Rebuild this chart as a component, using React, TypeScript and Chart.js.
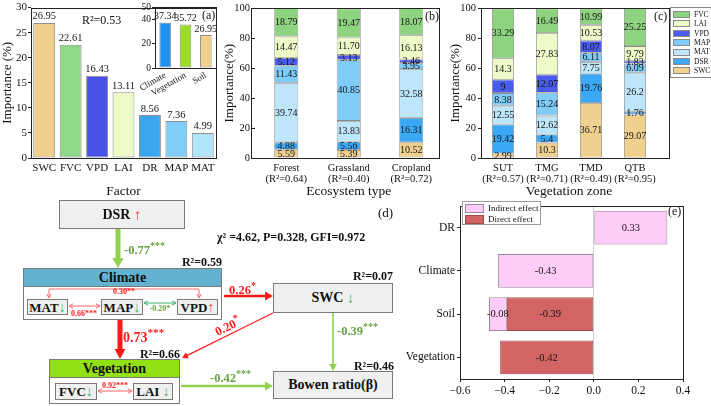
import React, { useEffect, useRef } from 'react';
import { Chart, registerables } from 'chart.js';
Chart.register(...registerables);

const SERIF = '"Liberation Serif", "Times New Roman", serif';
Chart.defaults.font.family = SERIF;
Chart.defaults.color = '#111';

// ---------- Panel (a) ----------
const factorLabels = ['SWC', 'FVC', 'VPD', 'LAI', 'DR', 'MAP', 'MAT'];
const factorImportance = [26.95, 22.61, 16.43, 13.11, 8.56, 7.36, 4.99];
const factorColors = ['#F0D08C', '#8CD987', '#4852E6', '#EEFAC8', '#3AA6F0', '#80CDF8', '#B0E4FA'];
const groupLabels = ['Climate', 'Vegetation', 'Soil'];
const groupImportance = [37.34, 35.72, 26.95];
const groupColors = ['#1E90F0', '#9ADC28', '#F0D08C'];
const aTicks = [0, 5, 10, 15, 20, 25, 30];

// ---------- Panel (b) / (c) ----------
const driverNames = ['SWC', 'DSR', 'MAT', 'MAP', 'VPD', 'LAI', 'FVC'];
const driverColors = ['#F0D08E', '#3AA8F5', '#BEE6FA', '#7FCCF8', '#4A5CF0', '#EEFAC8', '#8ED480'];

const ecoLabels = [['Forest', '(R²=0.64)'], ['Grassland', '(R²=0.40)'], ['Cropland', '(R²=0.72)']];
const ecoSWC = [5.59, 5.39, 10.52];
const ecoDSR = [4.88, 5.56, 16.31];
const ecoMAT = [39.74, 13.83, 32.58];
const ecoMAP = [11.43, 40.85, 3.95];
const ecoVPD = [5.12, 3.13, 2.46];
const ecoLAI = [14.47, 11.70, 16.13];
const ecoFVC = [18.79, 19.47, 18.07];

const zoneLabels = [['SUT', '(R²=0.57)'], ['TMG', '(R²=0.71)'], ['TMD', '(R²=0.49)'], ['QTB', '(R²=0.95)']];
const zoneSWC = [2.99, 10.3, 36.71, 29.07];
const zoneDSR = [19.42, 5.4, 19.76, 1.76];
const zoneMAT = [12.55, 12.62, 7.75, 26.2];
const zoneMAP = [8.38, 15.24, 6.11, 6.09];
const zoneVPD = [9, 12.07, 8.07, 1.83];
const zoneLAI = [14.3, 27.83, 10.53, 9.79];
const zoneFVC = [33.29, 16.49, 10.99, 25.25];

// ---------- Panel (e) ----------
const effectLabels = ['DR', 'Climate', 'Soil', 'Vegetation'];
const indirectEffect = [0.33, -0.43, -0.08, null];
const directEffect = [null, null, -0.39, -0.42];

const valueLabels = {
  id: 'valueLabels',
  afterDatasetsDraw(chart: any, _args: any, opts: any) {
    if (!opts || !opts.mode) return;
    const ctx = chart.ctx;
    ctx.save();
    ctx.font = `${opts.size}px ${SERIF}`;
    ctx.fillStyle = '#151515';
    ctx.textAlign = 'center';
    chart.data.datasets.forEach((ds: any, di: number) => {
      const meta = chart.getDatasetMeta(di);
      meta.data.forEach((el: any, i: number) => {
        const v = ds.data[i];
        if (v == null || v === 0) return;
        const txt = opts.decimals >= 0 ? v.toFixed(opts.decimals) : String(v);
        if (opts.mode === 'top') {
          ctx.textBaseline = 'bottom';
          ctx.fillText(txt, el.x, el.y - 1);
        } else {
          const p = el.getCenterPoint();
          ctx.textBaseline = 'middle';
          ctx.fillText(txt, p.x, p.y + 0.5);
        }
      });
    });
    ctx.restore();
  },
};

const framePlugin = {
  id: 'frame',
  afterDraw(chart: any, _args: any, opts: any) {
    const { left, right, top, bottom } = chart.chartArea;
    const ctx = chart.ctx;
    const l = Math.round(left - (opts.exL || 0)) + 0.5;
    const r = Math.round(right + (opts.exR || 0)) + 0.5;
    const t = Math.round(top) + 0.5;
    const b = Math.round(bottom) + 0.5;
    ctx.save();
    ctx.strokeStyle = '#222';
    ctx.lineWidth = 1;
    ctx.strokeRect(l, t, r - l, b - t);
    ctx.restore();
  },
};

const base = () => ({
  responsive: false,
  animation: false,
  events: [],
});

function configA() {
  return {
    type: 'bar',
    data: {
      labels: factorLabels,
      datasets: [{
        data: factorImportance,
        backgroundColor: factorColors,
        borderColor: '#8e8e8e',
        borderWidth: 1,
        borderSkipped: false,
        barPercentage: 0.83,
        categoryPercentage: 1,
      }],
    },
    options: {
      ...base(),
      layout: { padding: { top: 7, right: 14, left: 0, bottom: 0 } },
      plugins: { legend: { display: false }, tooltip: { enabled: false }, valueLabels: { mode: 'top', decimals: 2, size: 10.5 } },
      scales: {
        x: {
          grid: { display: false, drawTicks: false },
          border: { display: false },
          ticks: { font: { size: 11 }, padding: 4, maxRotation: 0, autoSkip: false },
          title: { display: true, text: 'Factor', font: { size: 13.5 }, padding: 0 },
          afterFit(s: any) { s.height = 42; },
        },
        y: {
          min: 0, max: 30,
          afterBuildTicks(s: any) { s.ticks = aTicks.map((v) => ({ value: v })); },
          ticks: { font: { size: 11 }, padding: 1 },
          grid: { drawOnChartArea: false, tickLength: 3, color: '#222' },
          border: { display: false },
          title: { display: true, text: 'Importance (%)', font: { size: 13 }, padding: 0 },
          afterFit(s: any) { s.width = 31; },
        },
      },
    },
    plugins: [valueLabels, framePlugin],
  };
}

function configInset() {
  return {
    type: 'bar',
    data: {
      labels: groupLabels,
      datasets: [{
        data: groupImportance,
        backgroundColor: groupColors,
        borderColor: '#8e8e8e',
        borderWidth: 1,
        borderSkipped: false,
        barPercentage: 0.57,
        categoryPercentage: 1,
      }],
    },
    options: {
      ...base(),
      layout: { padding: { top: 7, right: 7, left: 0, bottom: 0 } },
      plugins: { legend: { display: false }, tooltip: { enabled: false }, valueLabels: { mode: 'top', decimals: 2, size: 10 } },
      scales: {
        x: {
          grid: { display: false, drawTicks: false },
          border: { display: false },
          ticks: { font: { size: 9 }, padding: 2, minRotation: 30, maxRotation: 30, autoSkip: false },
          afterFit(s: any) { s.height = 32; },
        },
        y: {
          min: 0, max: 50,
          ticks: { stepSize: 20, font: { size: 9.5 }, padding: 1 },
          grid: { drawOnChartArea: false, tickLength: 3, color: '#222' },
          border: { display: false },
          afterFit(s: any) { s.width = 27; },
        },
      },
    },
    plugins: [valueLabels, framePlugin],
  };
}

function stackDatasets(series: number[][], width: number) {
  return series.map((d, i) => ({
    label: driverNames[i],
    data: d,
    backgroundColor: driverColors[i],
    borderColor: '#8a8a8a',
    borderWidth: 0.8,
    borderSkipped: false,
    barPercentage: width,
    categoryPercentage: 1,
  }));
}

function stackConfig(labels: any, series: number[][], width: number, padRight: number, exL: number, exR: number, title: string, decimals: number) {
  return {
    type: 'bar',
    data: { labels, datasets: stackDatasets(series, width) },
    options: {
      ...base(),
      layout: { padding: { top: 7, right: padRight, left: 0, bottom: 0 } },
      plugins: { legend: { display: false }, tooltip: { enabled: false }, valueLabels: { mode: 'center', decimals, size: 10 }, frame: { exL, exR } },
      scales: {
        x: {
          stacked: true,
          grid: { display: false, drawTicks: false },
          border: { display: false },
          ticks: { font: { size: 10.5, lineHeight: 1.1 }, padding: 4, maxRotation: 0, autoSkip: false },
          title: { display: true, text: title, font: { size: 13.5 }, padding: 0 },
          afterFit(s: any) { s.height = 42; },
        },
        y: {
          stacked: true,
          min: 0, max: 100,
          ticks: { stepSize: 20, font: { size: 10.5 }, padding: 2 },
          grid: { drawOnChartArea: false, tickLength: 3, color: '#222' },
          border: { display: false },
          title: { display: true, text: 'Importance(%)', font: { size: 13 }, padding: 0 },
          afterFit(s: any) { s.width = 33; },
        },
      },
    },
    plugins: [valueLabels, framePlugin],
  };
}

function configB() {
  return stackConfig(ecoLabels, [ecoSWC, ecoDSR, ecoMAT, ecoMAP, ecoVPD, ecoLAI, ecoFVC], 0.384, 17.5, 4, -3.5, 'Ecosystem type', 2);
}
function configC() {
  return stackConfig(zoneLabels, [zoneSWC, zoneDSR, zoneMAT, zoneMAP, zoneVPD, zoneLAI, zoneFVC], 0.5, 54, 0, 12, 'Vegetation zone', -1);
}

function configE() {
  return {
    type: 'bar',
    data: {
      labels: effectLabels,
      datasets: [
        { label: 'Direct effect', data: directEffect, backgroundColor: '#D36464', borderColor: '#A24848', borderWidth: 1, borderSkipped: false, barPercentage: 0.78, categoryPercentage: 1 },
        { label: 'Indirect effect', data: indirectEffect, backgroundColor: '#FFCCF8', borderColor: '#9C86A4', borderWidth: 1, borderSkipped: false, barPercentage: 0.78, categoryPercentage: 1 },
      ],
    },
    options: {
      ...base(),
      indexAxis: 'y',
      layout: { padding: { top: 2, right: 28, left: 0, bottom: 0 } },
      plugins: { legend: { display: false }, tooltip: { enabled: false }, valueLabels: { mode: 'center', decimals: 2, size: 10.5 } },
      scales: {
        x: {
          stacked: true,
          min: -0.6, max: 0.4,
          ticks: {
            stepSize: 0.2, font: { size: 11.5 }, padding: 2,
            callback: (v: number) => { const n = Math.abs(v) < 1e-9 ? 0 : v; return n < 0 ? '\u2212' + Math.abs(n).toFixed(1) : n.toFixed(1); },
          },
          grid: {
            color: (c: any) => (c.tick && Math.abs(c.tick.value) < 1e-9 ? '#cfcfcf' : 'rgba(0,0,0,0)'),
            tickColor: '#222', tickLength: 3,
          },
          border: { display: false },
          afterFit(s: any) { s.height = 27; },
        },
        y: {
          stacked: true,
          ticks: { font: { size: 11.5 }, padding: 2 },
          grid: { drawOnChartArea: false, offset: false, tickLength: 3, color: '#222' },
          border: { display: false },
          afterFit(s: any) { s.width = 64; },
        },
      },
    },
    plugins: [valueLabels, framePlugin],
  };
}

function ChartCanvas({ left, top, width, height, make }: any) {
  const ref = useRef<HTMLCanvasElement>(null);
  useEffect(() => {
    const chart = new Chart(ref.current as HTMLCanvasElement, make() as any);
    return () => chart.destroy();
  }, []);
  return <canvas ref={ref} width={width} height={height} style={{ position: 'absolute', left, top, width, height }} />;
}

function T({ x, y, s = 12, c = '#111', b = true, a = 'left', rot = 0, children }: any) {
  const style: any = {
    position: 'absolute', top: y - s * 0.6, fontSize: s, lineHeight: `${s * 1.2}px`, color: c,
    fontWeight: b ? 'bold' : 'normal', fontFamily: SERIF, whiteSpace: 'nowrap',
  };
  if (rot) {
    style.left = x; style.top = y; style.transform = `translate(-50%,-50%) rotate(${rot}deg)`;
  } else if (a === 'left') style.left = x;
  else if (a === 'right') style.right = 711 - x;
  else { style.left = x; style.transform = 'translateX(-50%)'; }
  return <div style={style}>{children}</div>;
}

const Sup = ({ children }: any) => <sup style={{ fontSize: '0.8em', verticalAlign: '0.5em', lineHeight: 0 }}>{children}</sup>;
const Up = () => <span style={{ color: '#FF3030', fontWeight: 'normal', fontSize: '1.1em' }}>↑</span>;
const Down = () => <span style={{ color: '#3CB371', fontWeight: 'normal', fontSize: '1.1em' }}>↓</span>;

function Box({ l, t, w, h, bg = '#F0F0F0', s = 14, children }: any) {
  return (
    <div style={{
      position: 'absolute', left: l, top: t, width: w, height: h, boxSizing: 'border-box',
      border: '1px solid #7a7a7a', background: bg, display: 'flex', alignItems: 'center', justifyContent: 'center',
      fontFamily: SERIF, fontWeight: 'bold', fontSize: s, color: '#111', lineHeight: 1, whiteSpace: 'nowrap',
    }}>{children}</div>
  );
}

function arrow(key: string, x1: number, y1: number, x2: number, y2: number, color: string, w: number, head: number, open: boolean, both = false) {
  const dx = x2 - x1, dy = y2 - y1;
  const len = Math.hypot(dx, dy);
  const ux = dx / len, uy = dy / len;
  const px = -uy, py = ux;
  const hw = head * 0.55;
  const els: any[] = [];
  const mk = (tx: number, ty: number, dirx: number, diry: number, k: string) => {
    const bx = tx - dirx * head, by = ty - diry * head;
    const pts = `${bx + px * hw},${by + py * hw} ${tx},${ty} ${bx - px * hw},${by - py * hw}`;
    if (open) els.push(<polyline key={k} points={pts} fill="none" stroke={color} strokeWidth={Math.max(1, w)} />);
    else els.push(<polygon key={k} points={pts} fill={color} />);
  };
  const sx = both && !open ? x1 + ux * head * 0.9 : x1;
  const sy = both && !open ? y1 + uy * head * 0.9 : y1;
  const ex = open ? x2 : x2 - ux * head * 0.9;
  const ey = open ? y2 : y2 - uy * head * 0.9;
  els.push(<line key={key + 'l'} x1={sx} y1={sy} x2={ex} y2={ey} stroke={color} strokeWidth={w} />);
  mk(x2, y2, ux, uy, key + 'h2');
  if (both) mk(x1, y1, -ux, -uy, key + 'h1');
  return els;
}

const GREEN = '#92D050';
const GTXT = '#6AA341';
const RED = '#FF1A1A';
const LRED = '#FF6A6A';

function PathDiagram() {
  return (
    <>
      <Box l={59} t={200} w={126} h={29}>DSR&nbsp;<Up /></Box>
      <Box l={23} t={268} w={199} h={19} bg="#62B2D0">Climate</Box>
      <Box l={23} t={286} w={199} h={34} bg="#FFFFFF">{''}</Box>
      <Box l={27} t={299} w={41} h={16} s={13}>MAT<Down /></Box>
      <Box l={101} t={299} w={42} h={16} s={13}>MAP<Down /></Box>
      <Box l={177} t={299} w={41} h={16} s={13}>VPD<Up /></Box>
      <Box l={273} t={283} w={120} h={30}>SWC&nbsp;<Down /></Box>
      <Box l={49} t={359} w={131} h={19} bg="#92E114">Vegetation</Box>
      <Box l={49} t={377} w={131} h={27} bg="#FFFFFF">{''}</Box>
      <Box l={55} t={383} w={42} h={17} s={13}>FVC<Down /></Box>
      <Box l={133} t={383} w={40} h={17} s={13}>LAI&nbsp;<Down /></Box>
      <Box l={273} t={371} w={120} h={28}>Bowen ratio(β)</Box>

      <svg width={711} height={406} style={{ position: 'absolute', left: 0, top: 0, pointerEvents: 'none' }}>
        {arrow('dsr', 118, 229, 118, 268, GREEN, 5, 10, false)}
        {arrow('cv', 120, 320, 120, 359, RED, 5, 10, false)}
        {arrow('cs', 224, 296, 273, 296, RED, 2.5, 8, false)}
        {arrow('sv', 273, 313, 182, 358, RED, 1.2, 6, false)}
        {arrow('vb', 181, 386, 273, 386, GREEN, 2.5, 8, false)}
        {arrow('sb', 333, 313, 333, 371, GREEN, 1.6, 7, false)}
        <polyline points="49,289 199,289" fill="none" stroke={LRED} strokeWidth={1} />
        {arrow('b1', 49, 289, 49, 298, LRED, 1, 4, true)}
        {arrow('b2', 199, 289, 199, 298, LRED, 1, 4, true)}
        {arrow('mm', 69, 306, 100, 306, LRED, 1, 4, true, true)}
        {arrow('mv', 144, 303, 176, 303, '#3CB371', 1, 4, true, true)}
        {arrow('fl', 98, 391, 132, 391, LRED, 1, 4, true, true)}
      </svg>

      <T x={124} y={250} s={12.5} c={GTXT}>-0.77<Sup>***</Sup></T>
      <T x={222} y={262} s={12} a="right">R²=0.59</T>
      <T x={124} y={292} s={8} c={RED} a="center">0.30**</T>
      <T x={84} y={314} s={8} c={RED} a="center">0.66***</T>
      <T x={160} y={309} s={8} c={GTXT} a="center">-0.20*</T>
      <T x={123} y={338} s={14} c={RED}>0.73<Sup>***</Sup></T>
      <T x={180} y={354} s={12} a="right">R²=0.66</T>
      <T x={229} y={290} s={12.5} c={RED}>0.26<Sup>*</Sup></T>
      <T x={393} y={276} s={12} a="right">R²=0.07</T>
      <T x={228} y={327} s={12.5} c={RED} rot={-26}>0.20<Sup>*</Sup></T>
      <T x={115} y={386} s={8} c={RED} a="center">0.92***</T>
      <T x={210} y={378} s={12.5} c={GTXT}>-0.42<Sup>***</Sup></T>
      <T x={394} y={366} s={12} a="right">R²=0.46</T>
      <T x={337} y={331} s={12.5} c={GTXT}>-0.39<Sup>***</Sup></T>
      <T x={217} y={237} s={12}>χ² =4.62, P=0.328, GFI=0.972</T>
      <T x={378} y={213} s={13} b={false}>(d)</T>
    </>
  );
}

function LegendC() {
  const order = [6, 5, 4, 3, 2, 1, 0];
  return (
    <div style={{ position: 'absolute', left: 670, top: 7, width: 45, height: 71, border: '1px solid #8a8a8a', boxSizing: 'border-box', background: '#fff' }}>
      {order.map((i, k) => (
        <div key={i} style={{ position: 'absolute', left: 2, top: 2 + k * 9.4, height: 9, display: 'flex', alignItems: 'center' }}>
          <div style={{ width: 17, height: 7, background: driverColors[i], border: '1px solid #8a8a8a', boxSizing: 'border-box' }} />
          <span style={{ marginLeft: 4, fontFamily: SERIF, fontSize: 7.5, color: '#111', lineHeight: 1 }}>{driverNames[i]}</span>
        </div>
      ))}
    </div>
  );
}

function LegendE() {
  const items = [['Indirect effect', '#FFCCF8', '#9C86A4'], ['Direct effect', '#D36464', '#A24848']];
  return (
    <div style={{ position: 'absolute', left: 462, top: 201, width: 79, height: 24, border: '1px solid #9a9a9a', boxSizing: 'border-box', background: '#fff' }}>
      {items.map(([t, c, b], k) => (
        <div key={t} style={{ position: 'absolute', left: 2, top: 1 + k * 11, height: 10, display: 'flex', alignItems: 'center' }}>
          <div style={{ width: 19, height: 9, background: c, border: `1px solid ${b}`, boxSizing: 'border-box' }} />
          <span style={{ marginLeft: 4, fontFamily: SERIF, fontSize: 9, color: '#111', lineHeight: 1 }}>{t}</span>
        </div>
      ))}
    </div>
  );
}

export default function App() {
  useEffect(() => {
    document.body.style.margin = '0';
    document.body.style.background = '#fff';
  }, []);
  return (
    <div style={{ position: 'relative', width: 711, height: 406, overflow: 'hidden', background: '#fff' }}>
      <ChartCanvas left={0} top={0} width={230} height={200} make={configA} />
      <ChartCanvas left={128} top={0} width={95} height={100} make={configInset} />
      <ChartCanvas left={222} top={0} width={238} height={200} make={configB} />
      <ChartCanvas left={448} top={0} width={263} height={200} make={configC} />
      <ChartCanvas left={396} top={197} width={315} height={209} make={configE} />
      <T x={82} y={20} s={12} b={false}>R²=0.53</T>
      <T x={202} y={15} s={12} b={false}>(a)</T>
      <T x={425} y={16} s={12} b={false}>(b)</T>
      <T x={654} y={16} s={12} b={false}>(c)</T>
      <T x={668} y={211} s={12} b={false}>(e)</T>
      <LegendC />
      <LegendE />
      <PathDiagram />
    </div>
  );
}
